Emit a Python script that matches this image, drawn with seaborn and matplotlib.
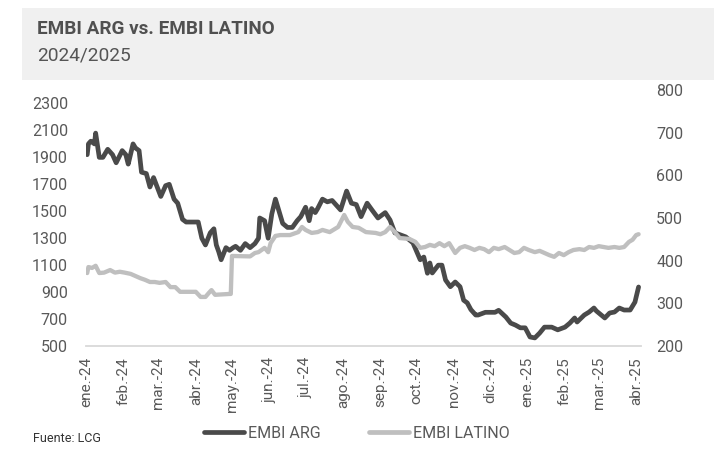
import matplotlib
matplotlib.use("Agg")
import matplotlib.pyplot as plt
import matplotlib.patches as mpatches
from matplotlib.lines import Line2D
import seaborn as sns
import pandas as pd

# ---------------- data ----------------
arg_dates = [
    "2024-01-02", "2024-01-03", "2024-01-05", "2024-01-08", "2024-01-09", "2024-01-12", "2024-01-15",
    "2024-01-19", "2024-01-23", "2024-01-26", "2024-01-31", "2024-02-03", "2024-02-05", "2024-02-09",
    "2024-02-11", "2024-02-14", "2024-02-16", "2024-02-20", "2024-02-23", "2024-02-26", "2024-02-29",
    "2024-03-03", "2024-03-07", "2024-03-10", "2024-03-14", "2024-03-17", "2024-03-21", "2024-03-24",
    "2024-04-03", "2024-04-06", "2024-04-09", "2024-04-13", "2024-04-16", "2024-04-18", "2024-04-20",
    "2024-04-22", "2024-04-26", "2024-04-29", "2024-05-02", "2024-05-04", "2024-05-08", "2024-05-12",
    "2024-05-16", "2024-05-20", "2024-05-23", "2024-05-24", "2024-05-28", "2024-05-31", "2024-06-03",
    "2024-06-06", "2024-06-09", "2024-06-12", "2024-06-16", "2024-06-20", "2024-06-24", "2024-06-27",
    "2024-07-01", "2024-07-04", "2024-07-06", "2024-07-09", "2024-07-11", "2024-07-15", "2024-07-19",
    "2024-07-23", "2024-07-27", "2024-07-30", "2024-08-04", "2024-08-08", "2024-08-12", "2024-08-16",
    "2024-08-21", "2024-08-25", "2024-08-30", "2024-09-05", "2024-09-09", "2024-09-13", "2024-09-22",
    "2024-09-28", "2024-10-04", "2024-10-07", "2024-10-10", "2024-10-12", "2024-10-14", "2024-10-19",
    "2024-10-22", "2024-10-25", "2024-10-29", "2024-11-02", "2024-11-06", "2024-11-09", "2024-11-12",
    "2024-11-15", "2024-11-19", "2024-11-21", "2024-11-27", "2024-12-05", "2024-12-08", "2024-12-14",
    "2024-12-18", "2024-12-22", "2024-12-26", "2024-12-30", "2025-01-03", "2025-01-07", "2025-01-11",
    "2025-01-15", "2025-01-21", "2025-01-26", "2025-02-01", "2025-02-05", "2025-02-09", "2025-02-11",
    "2025-02-17", "2025-02-21", "2025-02-25", "2025-02-27", "2025-03-06", "2025-03-10", "2025-03-14",
    "2025-03-18", "2025-03-22", "2025-03-27", "2025-03-31", "2025-04-01", "2025-04-03",
]
arg_values = [
    1920, 2000, 2020, 2000, 2080, 1900, 1900,
    1960, 1920, 1860, 1950, 1920, 1850, 2000,
    1970, 1950, 1790, 1780, 1680, 1750, 1680,
    1610, 1690, 1700, 1590, 1560, 1440, 1420,
    1420, 1300, 1250, 1340, 1370, 1250, 1200,
    1140, 1230, 1210, 1230, 1240, 1210, 1260,
    1230, 1260, 1300, 1450, 1430, 1300, 1480,
    1590, 1500, 1410, 1380, 1380, 1430, 1460,
    1530, 1430, 1520, 1490, 1520, 1590, 1570,
    1580, 1540, 1510, 1650, 1560, 1550, 1460,
    1560, 1510, 1450, 1490, 1435, 1340, 1310,
    1265, 1140, 1160, 1040, 1116, 1042, 1100,
    1100, 990, 940, 975, 940, 840, 820,
    770, 730, 730, 750, 750, 765, 715,
    670, 655, 635, 635, 567, 560, 596,
    640, 640, 620, 640, 670, 708, 678,
    730, 752, 782, 760, 708, 745, 752,
    782, 767, 767, 826, 864, 938,
]

lat_dates = [
    "2024-01-02", "2024-01-03", "2024-01-06", "2024-01-09", "2024-01-12", "2024-01-16", "2024-01-21",
    "2024-01-25", "2024-01-29", "2024-02-02", "2024-02-07", "2024-02-11", "2024-02-15", "2024-02-19",
    "2024-02-23", "2024-02-27", "2024-03-02", "2024-03-07", "2024-03-11", "2024-03-15", "2024-03-19",
    "2024-04-01", "2024-04-05", "2024-04-09", "2024-04-12", "2024-04-14", "2024-04-17", "2024-04-29",
    "2024-04-30", "2024-05-01", "2024-05-16", "2024-05-20", "2024-05-23", "2024-05-28", "2024-05-31",
    "2024-06-02", "2024-06-06", "2024-06-10", "2024-06-18", "2024-06-25", "2024-06-28", "2024-07-01",
    "2024-07-06", "2024-07-11", "2024-07-15", "2024-07-21", "2024-07-28", "2024-08-02", "2024-08-05",
    "2024-08-09", "2024-08-14", "2024-08-20", "2024-08-28", "2024-09-01", "2024-09-05", "2024-09-09",
    "2024-09-13", "2024-09-17", "2024-09-25", "2024-09-30", "2024-10-04", "2024-10-08", "2024-10-12",
    "2024-10-16", "2024-10-20", "2024-10-24", "2024-10-28", "2024-11-02", "2024-11-06", "2024-11-10",
    "2024-11-14", "2024-11-18", "2024-11-22", "2024-11-26", "2024-11-30", "2024-12-04", "2024-12-08",
    "2024-12-13", "2024-12-17", "2024-12-21", "2024-12-25", "2024-12-29", "2025-01-02", "2025-01-07",
    "2025-01-11", "2025-01-15", "2025-01-19", "2025-01-23", "2025-01-27", "2025-01-31", "2025-02-04",
    "2025-02-08", "2025-02-13", "2025-02-17", "2025-02-21", "2025-02-25", "2025-03-01", "2025-03-05",
    "2025-03-09", "2025-03-14", "2025-03-18", "2025-03-22", "2025-03-26", "2025-03-29", "2025-04-01",
    "2025-04-03",
]
lat_values = [
    371, 385, 383, 388, 371, 372, 378,
    372, 374, 372, 369, 364, 359, 355,
    350, 350, 348, 350, 338, 338, 327,
    327, 315, 315, 325, 331, 320, 322,
    322, 411, 410, 418, 420, 430, 420,
    441, 458, 460, 460, 467, 479, 472,
    465, 467, 472, 467, 479, 507, 491,
    479, 477, 467, 465, 462, 467, 479,
    467, 453, 451, 444, 430, 432, 437,
    434, 441, 434, 441, 418, 430, 434,
    430, 425, 430, 427, 420, 430, 427,
    432, 425, 418, 420, 430, 425, 420,
    423, 418, 413, 409, 418, 413, 420,
    425, 427, 425, 432, 430, 434, 432,
    430, 432, 430, 432, 444, 449, 460,
    462,
]

month_labels = ["ene.-24", "feb.-24", "mar.-24", "abr.-24", "may.-24", "jun.-24", "jul.-24",
                "ago.-24", "sep.-24", "oct.-24", "nov.-24", "dic.-24", "ene.-25", "feb.-25",
                "mar.-25", "abr.-25"]
left_ticks = [500, 700, 900, 1100, 1300, 1500, 1700, 1900, 2100, 2300]
right_ticks = [200, 300, 400, 500, 600, 700, 800]

title = "EMBI ARG vs. EMBI LATINO"
subtitle = "2024/2025"
source = "Fuente: LCG"
series_names = ["EMBI ARG", "EMBI LATINO"]

# ---------------- style ----------------
sns.set_theme(style="white")
plt.rcParams["font.family"] = ["Roboto", "DejaVu Sans"]

ARG_C = "#4a4a4a"
LAT_C = "#bfbfbf"
TXT_C = "#595959"
AX_C = "#d9d9d9"

df_arg = pd.DataFrame({"fecha": pd.to_datetime(arg_dates), "valor": arg_values})
df_lat = pd.DataFrame({"fecha": pd.to_datetime(lat_dates), "valor": lat_values})

fig = plt.figure(figsize=(7.14, 4.61), dpi=100)
fig.patch.set_facecolor("white")

# header box
fig.patches.append(mpatches.Rectangle((22 / 714, 1 - 80 / 461), 1.0, 72 / 461,
                                      transform=fig.transFigure, facecolor="#f0f0f0",
                                      edgecolor="none", zorder=0))
fig.text(37 / 714, 1 - 29 / 461, title, fontsize=13.6, fontweight="bold", color="#505050",
         va="center", ha="left")
fig.text(37 / 714, 1 - 56 / 461, subtitle, fontsize=13.8, color="#555555", va="center", ha="left")

ax = fig.add_axes([86 / 714, 1 - 346 / 461, (641 - 86) / 714, (346 - 90) / 461])
ax2 = ax.twinx()

sns.lineplot(data=df_arg, x="fecha", y="valor", ax=ax, color=ARG_C, linewidth=3.4)
sns.lineplot(data=df_lat, x="fecha", y="valor", ax=ax2, color=LAT_C, linewidth=3.1)

month_ticks = pd.date_range("2024-01-01", "2025-04-01", freq="MS")
ax.set_xlim(pd.Timestamp("2024-01-01"), pd.Timestamp("2025-04-05"))
ax.set_xticks(month_ticks)
ax.set_xticklabels(month_labels, rotation=90)

ax.set_ylim(500, 2400)
ax.set_yticks(left_ticks)
ax.set_yticklabels([str(v) for v in left_ticks])
ax2.set_ylim(200, 800)
ax2.set_yticks(right_ticks)
ax2.set_yticklabels([str(v) for v in right_ticks])

for a in (ax, ax2):
    a.set_xlabel("")
    a.set_ylabel("")
    a.set_facecolor("none")
    for s in ("top", "left", "right"):
        a.spines[s].set_visible(False)
    a.grid(False)
ax2.spines["bottom"].set_visible(False)
ax.spines["bottom"].set_color(AX_C)
ax.spines["bottom"].set_linewidth(1.3)

ax.tick_params(axis="x", length=5, width=1.3, color=AX_C, labelcolor=TXT_C, labelsize=11, pad=3)
ax.tick_params(axis="y", length=0, labelcolor=TXT_C, labelsize=11.5, pad=13)
ax2.tick_params(axis="y", length=0, labelcolor=TXT_C, labelsize=11.5, pad=11)

handles = [Line2D([0], [0], color=ARG_C, linewidth=3.4),
           Line2D([0], [0], color=LAT_C, linewidth=3.4)]
fig.legend(handles, series_names, loc="center", bbox_to_anchor=(357 / 714, 1 - 433 / 461),
           ncol=2, frameon=False, fontsize=11.5, handlelength=2.5, handletextpad=0.25,
           columnspacing=3.0, labelcolor=TXT_C)

fig.text(33 / 714, 1 - 438 / 461, source, fontsize=9, color="#333333", va="center", ha="left")

fig.savefig("out.png", dpi=100, facecolor="white")
